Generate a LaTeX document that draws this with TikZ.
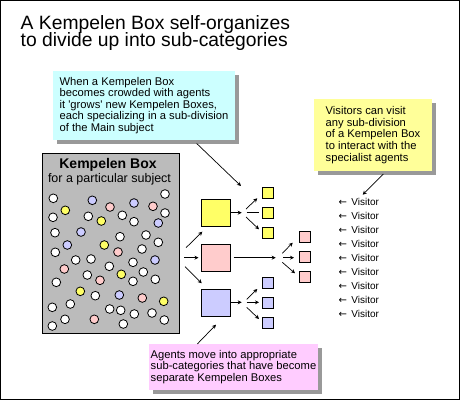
\documentclass[tikz,border=0pt]{standalone}
\usepackage{fontspec}
\setmainfont{Liberation Sans}
\newfontfamily\arrowfont{DejaVu Sans}
\usetikzlibrary{arrows.meta,shadows}
\definecolor{cyanbox}{HTML}{CCFFFF}
\definecolor{yellowbox}{HTML}{FFFF99}
\definecolor{pinkbox}{HTML}{FFCCFF}
\definecolor{shadowgray}{HTML}{999999}
\definecolor{kgray}{HTML}{BBBBBB}
\definecolor{sqyellow}{HTML}{FFFF66}
\definecolor{sqpink}{HTML}{FFCCCC}
\definecolor{sqblue}{HTML}{CCCCFF}
\colorlet{w}{white}
\colorlet{y}{sqyellow}
\colorlet{p}{sqpink}
\colorlet{b}{sqblue}
\begin{document}
\begin{tikzpicture}[x=1pt,y=-1pt,
  callout/.style={align=left, inner sep=0pt, font=\fontsize{11.2}{11.6}\selectfont,
    drop shadow={shadow xshift=4pt,shadow yshift=-4pt,opacity=1,fill=shadowgray}},
  titletext/.style={font=\fontsize{19.3}{20}\selectfont, inner sep=0pt, anchor=base west},
  kbox/.style={draw, line width=1pt, fill=kgray, inner sep=0pt},
  dot/.style={circle, draw, line width=0.8pt, minimum size=8.7pt, inner sep=0pt},
  bigsq/.style={draw, line width=0.8pt, minimum width=29pt, minimum height=27pt, inner sep=0pt},
  smallsq/.style={draw, line width=0.8pt, minimum size=11.5pt, inner sep=0pt},
  conn/.style={-{Stealth[length=4pt,width=4pt]}, line width=0.7pt},
  plainconn/.style={line width=0.7pt},
  visitor/.style={font=\fontsize{10}{12}\selectfont, inner sep=0pt, anchor=base west}
]
\useasboundingbox (0,0) rectangle (461,402);
\fill[white] (0,0) rectangle (461,402);
\draw[line width=1pt] (0.5,0.5) rectangle (459.5,399.5);

% title
\node[titletext] (t1) at (20.5,29) {A Kempelen Box self-organizes};
\node[titletext] (t2) at (20.5,46.5) {to divide up into sub-categories};

% callouts
\node[callout, fill=cyanbox, minimum width=182pt, minimum height=69pt] (c1) at (144,105.5)
  {When a Kempelen Box\\becomes crowded with agents\\it \textquotesingle grows\textquotesingle\ new Kempelen Boxes,\\each specializing in a sub-division\\of the Main subject};
\node[callout, fill=yellowbox, minimum width=118pt, minimum height=72pt] (c2) at (373,135)
  {Visitors can visit\\any sub-division\\of a Kempelen Box\\to interact with the\\specialist agents};
\node[callout, fill=pinkbox, minimum width=169pt, minimum height=46pt] (c3) at (233.5,367)
  {Agents move into appropriate\\sub-categories that have become\\separate Kempelen Boxes};

% Kempelen box
\node[kbox, anchor=north west, minimum width=137pt, minimum height=180pt] (kb) at (42,153) {};
\node[font=\bfseries\fontsize{14}{16}\selectfont, inner sep=0pt, anchor=base] (kt1) at (108,168) {Kempelen Box};
\node[font=\fontsize{12.5}{14}\selectfont, inner sep=0pt, anchor=base] (kt2) at (109.5,182.5) {for a particular subject};

\foreach \x/\y/\c [count=\i] in {53.3/198.3/w, 92.3/200.3/b, 134/203/b, 165/194/w, 65.3/210.3/y,
  110/207/p, 153/206.3/p, 53/217.3/w, 88.3/216.3/w, 122.3/215.3/w, 165/213/w, 101.3/221/y,
  134/221.7/w, 158.3/223/b, 55/232.7/w, 81/232/b, 120/236.7/w, 146/235/w, 67.3/245/b,
  104.3/245/y, 158.3/242.3/w, 55.3/252.3/w, 118/252/p, 142/249/w, 75.7/260/w, 91/259/w,
  155/260/b, 133/262.3/w, 109.3/266.3/w, 64.3/269/p, 87.3/275/w, 143.3/272/w, 121.3/274.3/y,
  100/280.3/p, 133/281.3/w, 155.3/279.3/w, 56.3/282.3/w, 80.3/291.3/y, 95.3/295.7/w,
  119.3/295/b, 142.3/298/p, 163.7/301.3/y, 70.3/304/w, 52.3/307.3/w, 109.7/309/w,
  120.7/310.3/w, 134.3/314/w, 152/313/w, 65/319.3/w, 94.3/319.3/p, 164.3/320/w,
  52.3/326/w, 123.3/324/w}
  \node[dot, fill=\c] (d\i) at (\x,\y) {};

% big squares
\node[bigsq, fill=sqyellow] (ysq) at (215.8,212.8) {};
\node[bigsq, fill=sqpink] (psq) at (215.8,257.7) {};
\node[bigsq, fill=sqblue] (bsq) at (215.8,302.8) {};

% small squares
\node[smallsq, fill=sqyellow] (ys1) at (268,193) {};
\node[smallsq, fill=sqyellow] (ys2) at (268,213) {};
\node[smallsq, fill=sqyellow] (ys3) at (268,233) {};
\node[smallsq, fill=sqpink] (ps1) at (304.7,236.7) {};
\node[smallsq, fill=sqpink] (ps2) at (304.7,256.7) {};
\node[smallsq, fill=sqpink] (ps3) at (304.7,276.7) {};
\node[smallsq, fill=sqblue] (bs1) at (268,283) {};
\node[smallsq, fill=sqblue] (bs2) at (268,303) {};
\node[smallsq, fill=sqblue] (bs3) at (268,323) {};

% arrows from Kempelen box
\coordinate (ka1) at (186,247.7); \coordinate (kb1) at (202.3,231.7);
\coordinate (ka2) at (184,257.7); \coordinate (kb2) at (198.5,257.7);
\coordinate (ka3) at (185,266.7); \coordinate (kb3) at (201.7,283.3);
\draw[conn] (ka1) -- (kb1);
\draw[conn] (ka2) -- (kb2);
\draw[conn] (ka3) -- (kb3);

% yellow branch
\coordinate (yh) at (241.7,212.7);
\coordinate (ya1) at (246,209);   \coordinate (yb1) at (257.3,198.3);
\coordinate (ya2) at (246.7,212.7); \coordinate (yb2) at (259,212.7);
\coordinate (ya3) at (246,217);   \coordinate (yb3) at (259,229.3);
\draw[conn] (ysq.east |- yh) -- (yh);
\draw[conn] (ya1) -- (yb1);
\draw[plainconn] (ya2) -- (yb2);
\draw[conn] (ya3) -- (yb3);

% pink branch
\coordinate (ph) at (275.7,257.7);
\coordinate (pa1) at (282.3,253.3); \coordinate (pb1) at (292.7,242.7);
\coordinate (pa2) at (283.3,257.7); \coordinate (pb2) at (294,257.7);
\coordinate (pa3) at (282.3,262.3); \coordinate (pb3) at (295,273.3);
\draw[conn] ([xshift=3pt]psq.east |- ph) -- (ph);
\draw[conn] (pa1) -- (pb1);
\draw[conn] (pa2) -- (pb2);
\draw[conn] (pa3) -- (pb3);

% blue branch
\coordinate (bh) at (241.7,302.3);
\coordinate (ba1) at (246.7,299.3); \coordinate (bb1) at (257.3,289);
\coordinate (ba2) at (246.7,302.3); \coordinate (bb2) at (259,302.3);
\coordinate (ba3) at (246.7,307.3); \coordinate (bb3) at (259,319);
\draw[conn] (bsq.east |- bh) -- (bh);
\draw[conn] (ba1) -- (bb1);
\draw[conn] (ba2) -- (bb2);
\draw[conn] (ba3) -- (bb3);

% callout pointers
\coordinate (c1a) at (196.7,143.5); \coordinate (c1b) at (241,186);
\coordinate (c2a) at (383.3,174);   \coordinate (c2b) at (362.7,194.7);
\coordinate (c3a) at (197.3,344);   \coordinate (c3b) at (216,324.7);
\draw[conn] (c1a) -- (c1b);
\draw[conn] (c2a) -- (c2b);
\draw[conn] (c3a) -- (c3b);

% visitors
\foreach \k in {0,...,8}
  \node[visitor] (v\k) at (338.3,{205+14*\k}) {{\arrowfont ←}\hspace{4.5pt}Visitor};
\end{tikzpicture}
\end{document}
